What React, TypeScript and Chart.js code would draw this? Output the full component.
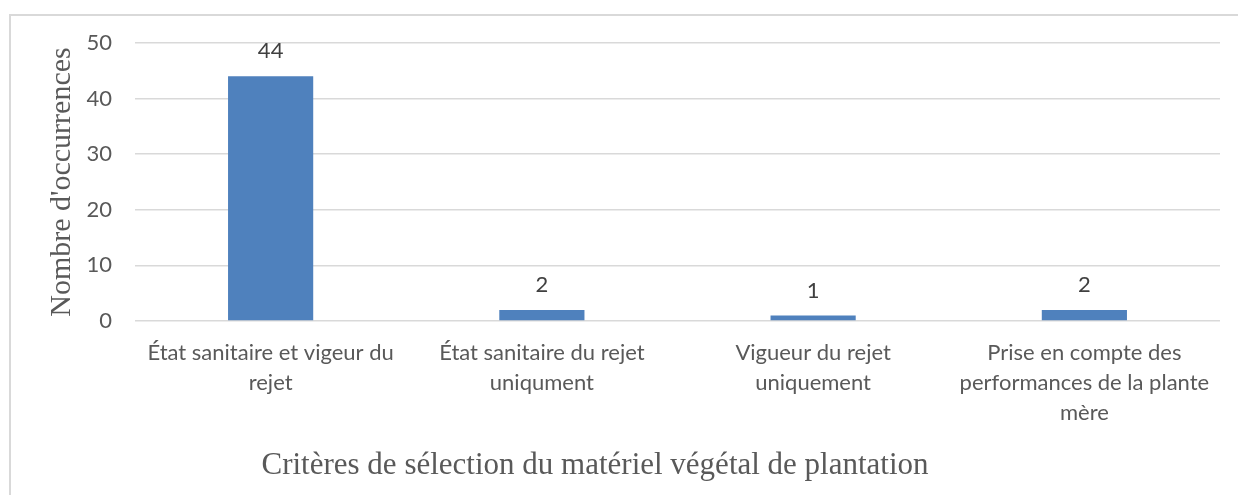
import React, { useEffect, useRef } from "react";
import { Chart, registerables } from "chart.js";

Chart.register(...registerables);

const categories: string[][] = [
  ["État sanitaire et vigeur du", "rejet"],
  ["État sanitaire du rejet", "uniqument"],
  ["Vigueur du rejet", "uniquement"],
  ["Prise en compte des", "performances de la plante", "mère"],
];
const occurrences: number[] = [44, 2, 1, 2];
const yTicks: number[] = [0, 10, 20, 30, 40, 50];
const yTitle = "Nombre d'occurrences";
const xTitle = "Critères de sélection du matériel végétal de plantation";

const TICK_FONT = { family: "Lato, 'Open Sans', sans-serif", size: 22 };
const TITLE_FONT = "'Liberation Serif', 'Times New Roman', serif";

const valueLabels = {
  id: "valueLabels",
  afterDatasetsDraw(chart: any) {
    const { ctx } = chart;
    const meta = chart.getDatasetMeta(0);
    ctx.save();
    ctx.font = `${TICK_FONT.size}px ${TICK_FONT.family}`;
    ctx.fillStyle = "#404040";
    ctx.textAlign = "center";
    ctx.textBaseline = "middle";
    meta.data.forEach((bar: any, i: number) => {
      ctx.fillText(String(occurrences[i]), bar.x, bar.y - 25);
    });
    ctx.restore();
  },
};

const xTitlePlugin = {
  id: "xTitlePlugin",
  afterDraw(chart: any) {
    const { ctx, chartArea } = chart;
    ctx.save();
    ctx.font = `31px ${TITLE_FONT}`;
    ctx.fillStyle = "#595959";
    ctx.textAlign = "center";
    ctx.textBaseline = "middle";
    const x = chartArea.left + chartArea.width * 0.424;
    ctx.fillText(xTitle, x, chartArea.bottom + 145);
    ctx.restore();
  },
};

export default function App() {
  const ref = useRef<HTMLCanvasElement>(null);
  useEffect(() => {
    document.body.style.overflow = "hidden";
    const chart = new Chart(ref.current!, {
      type: "bar",
      data: {
        labels: categories,
        datasets: [
          {
            data: occurrences,
            backgroundColor: "#4f81bd",
            borderWidth: 0,
            categoryPercentage: 1,
            barPercentage: 0.314,
          },
        ],
      },
      options: {
        responsive: false,
        animation: false,
        layout: { padding: { top: 43, right: 18, bottom: 0, left: 0 } },
        plugins: {
          legend: { display: false },
          tooltip: { enabled: false },
        },
        scales: {
          x: {
            grid: { display: false, drawTicks: false },
            border: { display: false },
            ticks: {
              color: "#595959",
              font: { ...TICK_FONT, lineHeight: 1.36 },
              padding: 17,
              maxRotation: 0,
              autoSkip: false,
            },
            afterFit(scale: any) {
              scale.height = 174;
            },
          },
          y: {
            min: 0,
            max: 50,
            afterBuildTicks(scale: any) {
              scale.ticks = yTicks.map((v) => ({ value: v }));
            },
            grid: { color: "#d9d9d9", lineWidth: 1.5, drawTicks: false },
            border: { display: false },
            ticks: {
              color: "#595959",
              font: TICK_FONT,
              padding: 23,
            },
            title: {
              display: true,
              text: yTitle,
              color: "#595959",
              font: { family: TITLE_FONT, size: 30 },
              padding: { top: 44, bottom: 0 },
            },
            afterFit(scale: any) {
              scale.width = 135;
            },
          },
        },
      },
      plugins: [valueLabels, xTitlePlugin],
    });
    return () => chart.destroy();
  }, []);

  return (
    <div
      style={{
        position: "fixed",
        left: 0,
        top: 0,
        width: 1238,
        height: 495,
        overflow: "hidden",
        background: "#ffffff",
      }}
    >
      <div
        style={{
          position: "absolute",
          left: 9,
          top: 14,
          width: 1260,
          height: 520,
          border: "2px solid #d9d9d9",
          boxSizing: "border-box",
        }}
      />
      <canvas
        ref={ref}
        width={1238}
        height={495}
        style={{ position: "absolute", left: 0, top: 0 }}
      />
    </div>
  );
}
